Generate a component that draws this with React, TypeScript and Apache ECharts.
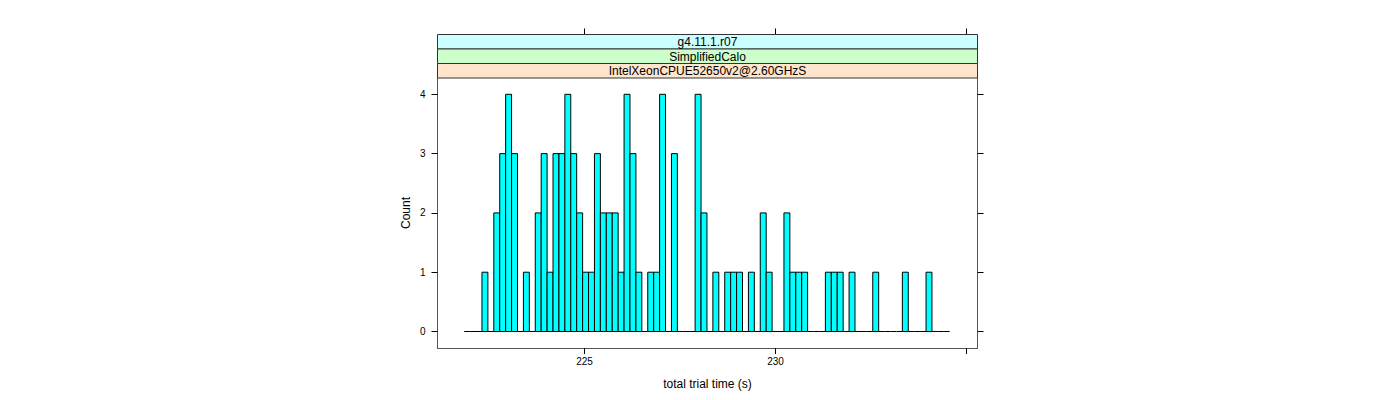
import React, { useEffect, useRef } from "react";
import * as echarts from "echarts";

// Histogram bins (lattice-style): first break, bin width, counts per bin
const BREAK_START = 221.851;
const BIN_WIDTH = 0.155;
const COUNTS = [
  0, 0, 0, 1, 0, 2, 3, 4, 3, 0,
  1, 0, 2, 3, 1, 3, 3, 4, 3, 2,
  1, 1, 3, 2, 2, 2, 1, 4, 3, 1,
  0, 1, 1, 4, 0, 3, 0, 0, 0, 4,
  2, 0, 1, 0, 1, 1, 1, 0, 1, 0,
  2, 1, 0, 0, 2, 1, 1, 1, 0, 0,
  0, 1, 1, 1, 0, 1, 0, 0, 0, 1,
  0, 0, 0, 0, 1, 0, 0, 0, 1, 0,
  0, 0,
];
const X_TICKS = [225, 230, 235];
const X_LABELS = [225, 230];
const Y_TICKS = [0, 1, 2, 3, 4];
const STRIPS = ["g4.11.1.r07", "SimplifiedCalo", "IntelXeonCPUE52650v2@2.60GHzS"];
const STRIP_COLORS = ["#CCFFFF", "#CCFFCC", "#FFE5CC"];

const FONT = "'Liberation Sans', Arial, Helvetica, sans-serif";

export default function App() {
  const ref = useRef<HTMLDivElement>(null);
  useEffect(() => {
    if (!ref.current) return;
    const chart = echarts.init(ref.current, null, { renderer: "svg" });
    const data = COUNTS.map((c, i) => [
      BREAK_START + i * BIN_WIDTH,
      BREAK_START + (i + 1) * BIN_WIDTH,
      c,
    ]);
    const gridLeft = 437.5;
    const gridRight = 977.5;
    const gridTop = 78;
    const gridBottom = 348;
    const stripTop = 34.5;
    const stripH = (gridTop - stripTop) / STRIPS.length;
    const stripGraphics: any[] = [];
    STRIPS.forEach((s, i) => {
      const y = stripTop + i * stripH;
      stripGraphics.push({
        type: "rect",
        shape: { x: gridLeft, y, width: gridRight - gridLeft, height: stripH },
        style: { fill: STRIP_COLORS[i], stroke: "#333", lineWidth: 1 },
        z: 10,
      });
      stripGraphics.push({
        type: "text",
        x: (gridLeft + gridRight) / 2,
        y: y + stripH / 2 + 0.5,
        style: {
          text: s,
          fill: "#000",
          font: `12px ${FONT}`,
          align: "center",
          verticalAlign: "middle",
        },
        z: 11,
      });
    });

    const xMin = 221.152;
    const xMax = 235.288;
    const yMin = -0.278;
    const yMax = 4.275;
    const axisColor = "#555";

    chart.setOption({
      animation: false,
      textStyle: { fontFamily: FONT },
      grid: {
        left: gridLeft,
        top: gridTop,
        width: gridRight - gridLeft,
        height: gridBottom - gridTop,
        containLabel: false,
      },
      xAxis: [
        {
          type: "value",
          min: xMin,
          max: xMax,
          position: "bottom",
          splitLine: { show: false },
          axisLine: { show: true, onZero: false, lineStyle: { color: axisColor, width: 1 } },
          axisTick: { show: true, length: 6, customValues: X_TICKS, lineStyle: { color: "#000" } },
          axisLabel: {
            customValues: X_LABELS,
            fontSize: 10,
            color: "#000",
            margin: 8,
            fontFamily: FONT,
          },
          name: "total trial time (s)",
          nameLocation: "middle",
          nameGap: 30,
          nameTextStyle: { fontSize: 12, color: "#000", fontFamily: FONT },
        },
        {
          type: "value",
          min: xMin,
          max: xMax,
          position: "top",
          offset: gridTop - stripTop,
          splitLine: { show: false },
          axisLine: { show: false, onZero: false },
          axisTick: { show: true, length: 6, customValues: X_TICKS, lineStyle: { color: "#000" } },
          axisLabel: { show: false },
        },
      ],
      yAxis: [
        {
          type: "value",
          min: yMin,
          max: yMax,
          position: "left",
          splitLine: { show: false },
          axisLine: { show: true, onZero: false, lineStyle: { color: axisColor, width: 1 } },
          axisTick: { show: true, length: 6, customValues: Y_TICKS, lineStyle: { color: "#000" } },
          axisLabel: {
            customValues: Y_TICKS,
            fontSize: 10,
            color: "#000",
            margin: 12,
            fontFamily: FONT,
          },
          name: "Count",
          nameLocation: "middle",
          nameGap: 26,
          nameTextStyle: { fontSize: 12, color: "#000", fontFamily: FONT },
        },
        {
          type: "value",
          min: yMin,
          max: yMax,
          position: "right",
          splitLine: { show: false },
          axisLine: { show: true, onZero: false, lineStyle: { color: axisColor, width: 1 } },
          axisTick: { show: true, length: 6, customValues: Y_TICKS, lineStyle: { color: "#000" } },
          axisLabel: { show: false },
        },
      ],
      graphic: stripGraphics,
      series: [
        {
          type: "custom",
          xAxisIndex: 0,
          yAxisIndex: 0,
          encode: { x: [0, 1], y: 2 },
          data,
          renderItem: (params: any, api: any) => {
            const x0 = api.value(0);
            const x1 = api.value(1);
            const c = api.value(2);
            const p0 = api.coord([x0, c]);
            const p1 = api.coord([x1, 0]);
            if (c === 0) {
              return {
                type: "line",
                shape: { x1: p0[0], y1: p1[1], x2: p1[0], y2: p1[1] },
                style: { stroke: "#000", lineWidth: 1 },
              };
            }
            return {
              type: "rect",
              shape: { x: p0[0], y: p0[1], width: p1[0] - p0[0], height: p1[1] - p0[1] },
              style: { fill: "#00FFFF", stroke: "#000", lineWidth: 1 },
            };
          },
        },
      ],
    });
    return () => chart.dispose();
  }, []);
  return (
    <div
      ref={ref}
      style={{ position: "absolute", left: 0, top: 0, width: 1400, height: 400 }}
    />
  );
}
